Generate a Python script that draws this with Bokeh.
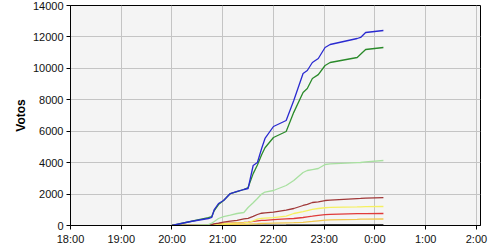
from bokeh.plotting import figure
from bokeh.models import Range1d, FixedTicker
from bokeh.embed import file_html
from bokeh.resources import INLINE

# times (HH:MM) shared by all series
times = ["20:00", "20:22", "20:43", "20:47", "20:50", "20:55", "21:01", "21:09", "21:17",
         "21:25", "21:30", "21:36", "21:41", "21:46", "21:50", "22:00", "22:15", "22:24",
         "22:35", "22:40", "22:46", "22:53", "23:01", "23:07", "23:39", "23:43", "23:49", "00:10"]

blue = [0, 255, 445, 510, 1018, 1400, 1590, 2036, 2164, 2291, 2355, 3818, 4009, 4900, 5537,
        6300, 6682, 7955, 9673, 9864, 10373, 10627, 11327, 11518, 11900, 11964, 12282, 12409]
green = [0, 255, 500, 570, 950, 1336, 1590, 2036, 2160, 2291, 2418, 3300, 3850, 4500, 4950,
         5600, 5982, 7200, 8464, 8719, 9355, 9600, 10182, 10373, 10691, 10900, 11200, 11327]
lightgreen = [0, 0, 60, 150, 250, 445, 560, 660, 764, 827, 1145, 1450, 1718, 2000, 2130,
              2227, 2545, 2864, 3373, 3500, 3560, 3627, 3882, 3920, 4000, 4009, 4050, 4136]
darkred = [0, 0, 30, 64, 100, 150, 220, 280, 330, 420, 460, 580, 700, 780, 800,
           850, 980, 1082, 1273, 1350, 1464, 1500, 1590, 1610, 1710, 1720, 1740, 1780]
yellow = [0, 0, 20, 40, 60, 90, 110, 140, 160, 180, 200, 300, 400, 450, 470,
          500, 600, 764, 890, 950, 1020, 1082, 1130, 1150, 1180, 1190, 1200, 1210]
red = [0, 0, 30, 60, 90, 110, 130, 150, 170, 190, 220, 260, 300, 320, 330,
       370, 420, 445, 510, 550, 590, 640, 690, 710, 750, 755, 760, 765]
orange = [0, 0, 10, 20, 30, 40, 50, 60, 70, 80, 90, 105, 115, 127, 135,
          150, 170, 180, 200, 230, 260, 300, 340, 360, 390, 400, 405, 415]
gray = [0, 0, 2, 4, 6, 8, 10, 12, 14, 16, 18, 20, 22, 24, 26,
        28, 31, 34, 37, 40, 43, 46, 49, 52, 55, 57, 59, 60]

series = [
    (gray, "#404040"),
    (orange, "#f0c850"),
    (red, "#e03a3a"),
    (yellow, "#f5f060"),
    (darkred, "#a03838"),
    (lightgreen, "#a8e0a0"),
    (green, "#2a8a2a"),
    (blue, "#2a2ad0"),
]

tick_hours = [18, 19, 20, 21, 22, 23, 24, 25, 26]
tick_labels = ["18:00", "19:00", "20:00", "21:00", "22:00", "23:00", "0:00", "1:00", "2:00"]
y_ticks = [0, 2000, 4000, 6000, 8000, 10000, 12000, 14000]


def to_hours(t):
    h, m = t.split(":")
    h = int(h)
    if h < 12:
        h += 24
    return h + int(m) / 60.0


xs = [to_hours(t) for t in times]

p = figure(width=500, height=250, output_backend="svg", toolbar_location=None,
           x_range=Range1d(18, 26.08), y_range=Range1d(0, 14000),
           min_border_left=70, min_border_right=20, min_border_top=5, min_border_bottom=25)
p.background_fill_color = "#f4f4f4"
p.border_fill_color = "white"
p.outline_line_color = "black"
p.outline_line_width = 1

for vals, col in series:
    p.line(xs, vals, line_color=col, line_width=1.3)

p.xaxis.ticker = FixedTicker(ticks=tick_hours)
p.xaxis.major_label_overrides = {h: l for h, l in zip(tick_hours, tick_labels)}
p.yaxis.ticker = FixedTicker(ticks=y_ticks)
p.yaxis.axis_label = "Votos"
p.yaxis.axis_label_text_font = "Liberation Sans"
p.yaxis.axis_label_text_font_style = "bold"
p.yaxis.axis_label_text_font_size = "12px"
p.yaxis.axis_label_text_color = "black"
p.yaxis.axis_label_standoff = 2

for ax in (p.xaxis, p.yaxis):
    ax.major_label_text_font = "Liberation Sans"
    ax.major_label_text_font_size = "11px"
    ax.major_label_text_color = "#111111"
    ax.axis_line_color = "black"
    ax.major_tick_line_color = "black"
    ax.major_tick_out = 4
    ax.major_tick_in = 0
    ax.minor_tick_line_color = None
    ax.major_label_standoff = 3

p.xgrid.grid_line_color = "#c4c4c4"
p.ygrid.grid_line_color = "#c4c4c4"

open("out.html", "w").write(file_html(p, INLINE))
